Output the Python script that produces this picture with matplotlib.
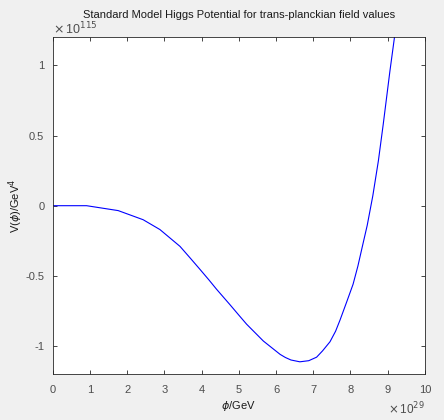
import matplotlib.pyplot as plt
import numpy as np

plt.rcParams['font.family'] = ['Liberation Sans', 'DejaVu Sans']

# field values (units of 1e29 GeV) and potential (units of 1e115 GeV^4)
phi = np.array([0, 0.91, 1.76, 2.43, 2.88, 3.42, 3.7, 3.96, 4.2, 4.40, 4.76, 5.0, 5.21,
                5.66, 6.11, 6.25, 6.40, 6.64, 6.88, 7.09, 7.25, 7.45, 7.6, 7.72, 7.9,
                8.07, 8.2, 8.32, 8.45, 8.60, 8.75, 8.88, 9.06, 9.18, 9.25])
V = np.array([0, 0, -0.035, -0.10, -0.17, -0.29, -0.375, -0.455, -0.53, -0.595, -0.705,
              -0.78, -0.845, -0.965, -1.06, -1.082, -1.10, -1.113, -1.105, -1.08, -1.035,
              -0.97, -0.895, -0.815, -0.685, -0.56, -0.43, -0.29, -0.14, 0.07, 0.32, 0.58,
              0.96, 1.196, 1.33])
xticks = [0, 1, 2, 3, 4, 5, 6, 7, 8, 9, 10]
yticks = [-1, -0.5, 0, 0.5, 1]

phi = phi * 1e29
V = V * 1e115

fig = plt.figure(figsize=(4.44, 4.2), dpi=100, facecolor='#f0f0f0')
ax = fig.add_axes([0.1187, 0.1095, 0.957 - 0.1187, 0.911 - 0.1095])
ax.plot(phi, V, color=(0, 0, 1), lw=0.8, solid_joinstyle='round')

ax.set_xlim(0, 10e29)
ax.set_ylim(-1.2e115, 1.2e115)
ax.set_xticks([t * 1e29 for t in xticks])
ax.set_xticklabels([f'{t:g}' for t in xticks])
ax.set_yticks([t * 1e115 for t in yticks])
ax.set_yticklabels([f'{t:g}' for t in yticks])

grey = '#4d4d4d'
ax.tick_params(direction='in', length=3, width=0.6, top=True, right=True,
               labelsize=8, colors='#262626', labelcolor=grey)
ax.tick_params(axis='x', pad=8)
ax.tick_params(axis='y', pad=6)
for s in ax.spines.values():
    s.set_color('#262626')
    s.set_linewidth(0.6)

ax.set_title('Standard Model Higgs Potential for trans-planckian field values',
             fontsize=8, color='#1a1a1a', pad=14)
ax.set_xlabel(r'$\phi$/GeV', fontsize=8, color='#1a1a1a', labelpad=3)
ax.set_ylabel(r'V($\phi$)/GeV$^4$', fontsize=8, color='#1a1a1a', labelpad=0)

fig.text(0.119, 1 - 34 / 420, r'$\times\,$10$^{115}$', fontsize=9, color=grey,
         va='baseline', ha='left')
fig.text(0.957, 1 - 414 / 420, r'$\times\,$10$^{29}$', fontsize=8.5, color=grey,
         va='baseline', ha='right')

fig.savefig('out.png', dpi=100, facecolor=fig.get_facecolor())
